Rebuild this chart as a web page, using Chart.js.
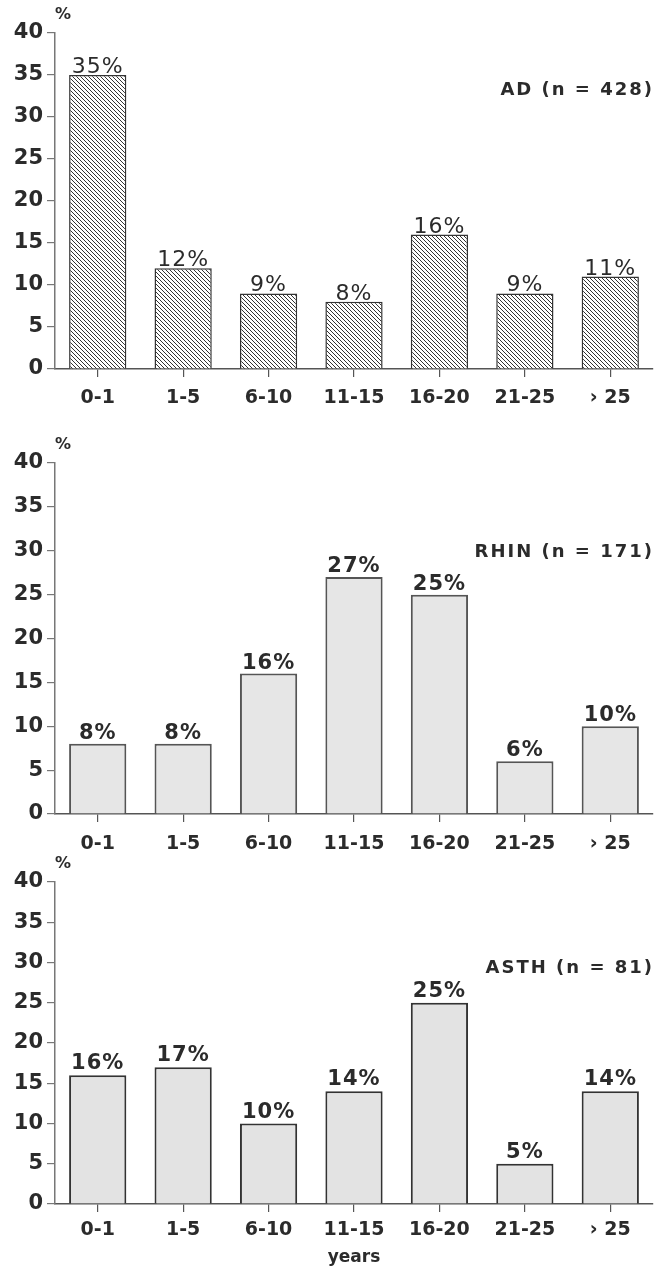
<!DOCTYPE html>
<html>
<head>
<meta charset="utf-8">
<script src="https://cdn.jsdelivr.net/npm/chart.js@4"></script>
<style>
  html, body { margin: 0; padding: 0; background: #fff; }
  body { width: 657px; height: 1276px; position: relative; overflow: hidden; }
  .panel { position: absolute; left: 0; width: 657px; }
</style>
</head>
<body>
<div class="panel" style="top:0;height:420px"><canvas id="chartAD"></canvas></div>
<div class="panel" style="top:420px;height:440px"><canvas id="chartRHIN"></canvas></div>
<div class="panel" style="top:845px;height:431px"><canvas id="chartASTH"></canvas></div>
<script>
const categories = ["0-1", "1-5", "6-10", "11-15", "16-20", "21-25", "› 25"];
const adValues = [35, 12, 9, 8, 16, 9, 11];
const rhinValues = [8, 8, 16, 27, 25, 6, 10];
const asthValues = [16, 17, 10, 14, 25, 5, 14];
const panelTitles = ["AD (n = 428)", "RHIN (n = 171)", "ASTH (n = 81)"];
const yMax = 40;
const yStep = 5;
const xTitle = "years";

const FONT = '"DejaVu Sans", "Liberation Sans", sans-serif';
const INK = "#2b2b2b";

function hatchPattern() {
  const s = 4;
  const c = document.createElement("canvas");
  c.width = s;
  c.height = s;
  const g = c.getContext("2d");
  g.fillStyle = "#fff";
  g.fillRect(0, 0, s, s);
  g.strokeStyle = "#333";
  g.lineWidth = 1;
  g.beginPath();
  g.moveTo(0, 0); g.lineTo(s, s);
  g.moveTo(-1, s - 1); g.lineTo(1, s + 1);
  g.moveTo(s - 1, -1); g.lineTo(s + 1, 1);
  g.stroke();
  return g.createPattern(c, "repeat");
}

const panelText = {
  id: "panelText",
  afterDraw(chart, args, opts) {
    const { ctx, chartArea } = chart;
    ctx.save();
    ctx.fillStyle = INK;
    ctx.font = `bold 16px ${FONT}`;
    ctx.textAlign = "center";
    ctx.textBaseline = "middle";
    ctx.fillText("%", chartArea.left + 8, chartArea.top - 18);

    ctx.font = `bold 18px ${FONT}`;
    ctx.letterSpacing = "2px";
    ctx.textAlign = "right";
    ctx.fillText(opts.title, chartArea.right + 1, chartArea.top + opts.titleOffset);

    const meta = chart.getDatasetMeta(0);
    const data = chart.data.datasets[0].data;
    ctx.font = opts.valueFont;
    ctx.letterSpacing = "1px";
    ctx.textAlign = "center";
    ctx.textBaseline = "alphabetic";
    meta.data.forEach((bar, i) => {
      ctx.fillText(data[i] + "%", bar.x, bar.y - opts.valueGap);
    });
    ctx.restore();
  },
};

function makeChart(id, values, cfg) {
  const el = document.getElementById(id);
  const h = el.parentElement.clientHeight;
  el.width = 657;
  el.height = h;
  return new Chart(el, {
    type: "bar",
    data: {
      labels: categories,
      datasets: [{
        data: values,
        backgroundColor: cfg.fill,
        borderColor: cfg.border,
        borderWidth: cfg.borderWidth,
        borderSkipped: "bottom",
        barPercentage: 0.67,
        categoryPercentage: 1,
      }],
    },
    options: {
      responsive: false,
      animation: false,
      layout: { padding: { top: cfg.top, right: 4, left: 0, bottom: 0 } },
      plugins: {
        legend: { display: false },
        tooltip: { enabled: false },
        panelText: {
          title: cfg.title,
          titleOffset: cfg.titleOffset,
          valueFont: cfg.valueFont,
          valueGap: cfg.valueGap,
        },
      },
      scales: {
        x: {
          afterFit: (scale) => { scale.height = cfg.xHeight; },
          grid: { drawOnChartArea: false, offset: false, tickLength: 8, color: "#555", lineWidth: 1.2 },
          border: { color: "#555", width: 1.5 },
          ticks: { color: INK, font: { family: FONT, size: 19, weight: "bold" }, padding: cfg.xPad, maxRotation: 0, autoSkip: false },
          title: {
            display: cfg.showXTitle,
            text: xTitle,
            color: INK,
            font: { family: FONT, size: 17, weight: "bold" },
            padding: { top: 4, bottom: 8 },
          },
        },
        y: {
          min: 0,
          max: yMax,
          afterFit: (scale) => { scale.width = 55; },
          grid: { drawOnChartArea: false, tickLength: 8, color: "#777", lineWidth: 1.2 },
          border: { color: "#777", width: 1.5 },
          ticks: { stepSize: yStep, color: INK, font: { family: FONT, size: 21, weight: "bold" }, padding: 4 },
        },
      },
    },
    plugins: [panelText],
  });
}

makeChart("chartAD", adValues, {
  fill: hatchPattern(),
  border: "#333",
  borderWidth: 1.5,
  top: 33,
  xHeight: 51,
  xPad: 10,
  title: panelTitles[0],
  titleOffset: 57,
  valueFont: `22px ${FONT}`,
  valueGap: 2,
  showXTitle: false,
});

makeChart("chartRHIN", rhinValues, {
  fill: "#e6e6e6",
  border: "#555",
  borderWidth: 2,
  top: 43,
  xHeight: 46,
  xPad: 11,
  title: panelTitles[1],
  titleOffset: 89,
  valueFont: `bold 21px ${FONT}`,
  valueGap: 5,
  showXTitle: false,
});

makeChart("chartASTH", asthValues, {
  fill: "#e3e3e3",
  border: "#333",
  borderWidth: 2,
  top: 37,
  xHeight: 72,
  xPad: 7,
  title: panelTitles[2],
  titleOffset: 86,
  valueFont: `bold 21px ${FONT}`,
  valueGap: 6,
  showXTitle: true,
});
</script>
</body>
</html>
